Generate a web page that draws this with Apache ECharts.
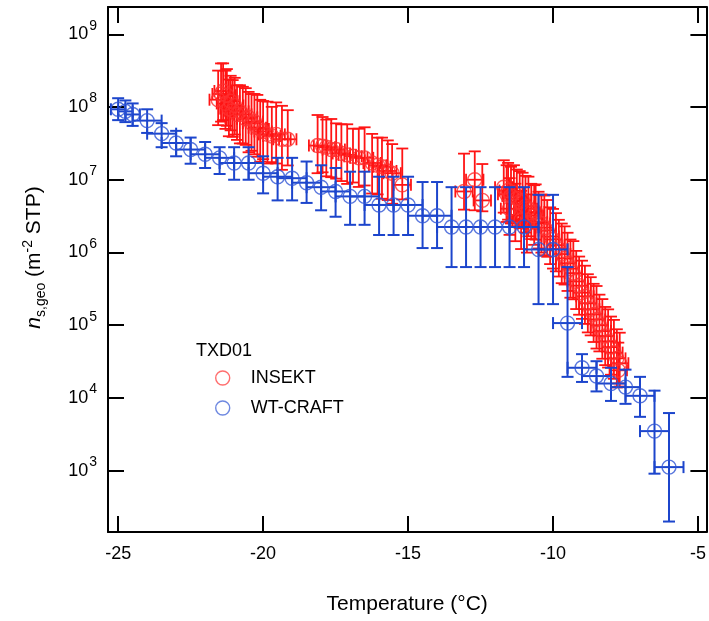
<!DOCTYPE html>
<html>
<head>
<meta charset="utf-8">
<script src="https://cdn.jsdelivr.net/npm/echarts@6/dist/echarts.min.js"></script>
<style>
html,body{margin:0;padding:0;background:#fff;}
#chart{width:709px;height:621px;}
</style>
</head>
<body>
<div id="chart"></div>
<script>
// ---------------- DATA ----------------
// WT-CRAFT (blue): temperature (°C), n_s,geo (m^-2 STP), lower bound, upper bound, temperature half-error
const blueT = [-25, -24.75, -24.5, -24, -23.5, -23, -22.5, -22, -21.5, -21,
  -20.5, -20, -19.5, -19, -18.5, -18, -17.5, -17, -16.5, -16,
  -15.5, -15, -14.5, -14, -13.5, -13, -12.5, -12, -11.5, -11,
  -10.5, -10, -9.5, -9, -8.5, -8, -7.5, -7, -6.5, -6];
const blueN = [9.3e7, 8.7e7, 7.9e7, 6.5e7, 4.3e7, 3.2e7, 2.6e7, 2.24e7, 2.0e7, 1.7e7,
  1.7e7, 1.23e7, 1.1e7, 1.05e7, 9.1e6, 7.9e6, 6.9e6, 5.9e6, 5.9e6, 4.5e6,
  4.5e6, 4.5e6, 3.2e6, 3.2e6, 2.24e6, 2.24e6, 2.24e6, 2.24e6, 2.24e6, 2.24e6,
  1.1e6, 1.1e6, 1.07e5, 2.6e4, 2.0e4, 1.58e4, 1.41e4, 1.07e4, 3.5e3, 1.12e3];
const blueLo = [6.6e7, 6.2e7, 5.5e7, 4.4e7, 2.8e7, 2.1e7, 1.66e7, 1.45e7, 1.2e7, 1.0e7,
  1.0e7, 6.5e6, 5.2e6, 5.2e6, 4.8e6, 3.8e6, 3.1e6, 2.4e6, 2.4e6, 1.74e6,
  1.74e6, 1.74e6, 1.15e6, 1.15e6, 6.3e5, 6.3e5, 6.3e5, 6.3e5, 6.3e5, 6.3e5,
  1.95e5, 1.95e5, 1.95e4, 1.66e4, 1.23e4, 9.1e3, 8.3e3, 5.5e3, 9.1e2, 2.0e2];
const blueHi = [1.32e8, 1.23e8, 1.12e8, 9.3e7, 6.0e7, 4.7e7, 3.8e7, 3.3e7, 2.8e7, 2.8e7,
  2.8e7, 2.1e7, 2.0e7, 2.0e7, 1.78e7, 1.58e7, 1.45e7, 1.29e7, 1.29e7, 1.1e7,
  1.1e7, 1.1e7, 9.3e6, 9.3e6, 7.9e6, 7.9e6, 7.9e6, 7.9e6, 7.9e6, 7.9e6,
  6.2e6, 6.2e6, 6.3e5, 4.0e4, 3.2e4, 2.6e4, 2.45e4, 1.95e4, 1.26e4, 6.2e3];
const blueTErr = [0.25, 0.25, 0.25, 0.5, 0.5, 0.5, 0.5, 0.5, 0.5, 0.5,
  0.5, 0.5, 0.5, 0.5, 0.5, 0.5, 0.5, 0.5, 0.5, 0.5,
  0.5, 0.5, 0.5, 0.5, 0.5, 0.5, 0.5, 0.5, 0.5, 0.5,
  0.5, 0.5, 0.5, 0.5, 0.5, 0.5, 0.5, 0.5, 0.5, 0.5];

// INSEKT (red): temperature (°C), n_s,geo, error up / down in decades
const redT = [
  -21.55, -21.45, -21.38, -21.30, -21.25, -21.18, -21.12, -21.05, -20.98, -20.90,
  -20.80, -20.70, -20.60, -20.50, -20.40, -20.30, -20.20, -20.10, -20.00, -19.85,
  -19.70, -19.55, -19.35, -19.15,
  -18.12, -17.95, -17.82, -17.65, -17.48, -17.30, -17.10, -16.90, -16.70, -16.50,
  -16.24, -16.05, -15.90, -15.70, -15.55, -15.20,
  -13.07, -12.70, -12.44,
  -11.70, -11.60, -11.55, -11.50, -11.45, -11.35, -11.30, -11.25, -11.15, -11.10,
  -11.05, -10.95, -10.90, -10.85, -10.75, -10.65, -10.60, -10.50, -10.40, -10.30,
  -10.20, -10.10, -10.00, -9.90, -9.80, -9.70, -9.60, -9.50, -9.40, -9.30,
  -9.20, -9.10, -9.00, -8.90, -8.80, -8.70, -8.60, -8.50, -8.40, -8.30,
  -8.20, -8.10, -8.00, -7.90, -7.80, -7.70, -7.75];
const redN = [
  1.26e8, 1.51e8, 1.66e8, 1.12e8, 1.45e8, 9.5e7, 1.2e8, 8.9e7, 1.05e8, 7.9e7,
  8.7e7, 7.9e7, 6.9e7, 7.2e7, 6.0e7, 6.3e7, 5.2e7, 5.0e7, 4.6e7, 4.2e7,
  4.0e7, 4.2e7, 3.6e7, 3.6e7,
  2.95e7, 2.9e7, 2.8e7, 2.6e7, 2.6e7, 2.3e7, 2.2e7, 2.1e7, 2.0e7, 2.0e7,
  1.7e7, 1.58e7, 1.51e7, 1.32e7, 1.23e7, 8.5e6,
  6.9e6, 1.0e7, 5.2e6,
  7.9e6, 6.3e6, 7.1e6, 4.0e6, 6.0e6, 6.6e6, 3.2e6, 5.5e6, 5.0e6, 2.8e6,
  5.2e6, 4.3e6, 2.5e6, 4.0e6, 3.5e6, 3.2e6, 3.6e6, 2.6e6, 2.5e6, 2.2e6,
  2.0e6, 1.66e6, 1.51e6, 1.26e6, 1.12e6, 9.5e5, 8.3e5, 7.1e5, 6.0e5, 5.2e5,
  4.0e5, 3.5e5, 2.8e5, 2.5e5, 2.0e5, 1.66e5, 1.41e5, 1.2e5, 1.0e5, 8.3e4,
  7.1e4, 6.0e4, 5.0e4, 4.2e4, 3.5e4, 3.0e4, 2.4e4];
const redUp = [
  .40, .42, .38, .45, .36, .40, .35, .42, .38, .40,
  .36, .38, .42, .35, .40, .38, .45, .40, .42, .45,
  .40, .44, .46, .40,
  .42, .40, .38, .42, .36, .40, .42, .38, .40, .42,
  .40, .38, .40, .42, .40, .50,
  .52, .39, .50,
  .37, .40, .38, .42, .40, .38, .44, .40, .42, .40,
  .38, .42, .40, .44, .40, .42, .38, .42, .40, .44,
  .42, .40, .42, .44, .40, .42, .44, .42, .40, .44,
  .42, .40, .44, .42, .40, .44, .42, .46, .42, .44,
  .40, .44, .42, .45, .40, .42, .38];
const redDn = [
  .35, .38, .40, .35, .42, .38, .40, .36, .40, .35,
  .44, .40, .36, .48, .38, .45, .40, .45, .38, .40,
  .36, .40, .42, .36,
  .38, .36, .40, .38, .40, .38, .40, .36, .40, .38,
  .42, .40, .44, .40, .42, .20,
  .25, .42, .15,
  .35, .38, .40, .36, .38, .40, .35, .38, .36, .40,
  .38, .36, .40, .38, .36, .40, .38, .36, .40, .38,
  .36, .38, .40, .36, .38, .40, .36, .38, .40, .36,
  .38, .40, .36, .38, .40, .36, .38, .40, .36, .38,
  .40, .36, .38, .36, .40, .32, .18];
const redTErr = 0.3;

const xTicksLabelled = [-25, -20, -15, -10, -5];
const legendTitle = 'TXD01';
const seriesNames = ['INSEKT', 'WT-CRAFT'];

// ---------------- BUILD ----------------
const RED = '#ff1414';
const BLUE = '#1c45cc';
const FONT = 'Liberation Sans, Arial, sans-serif';

const blueData = blueT.map((t, i) => [t, blueN[i], blueLo[i], blueHi[i], blueTErr[i]]);
const redData = redT.map((t, i) => [t, redN[i], redN[i] / Math.pow(10, redDn[i]), redN[i] * Math.pow(10, redUp[i]), redTErr]);

function errRender(color, lw, cap) {
  return function (params, api) {
    const x = api.value(0), y = api.value(1), lo = api.value(2), hi = api.value(3), xe = api.value(4);
    const c = api.coord([x, y]);
    const pLo = api.coord([x, lo]);
    const pHi = api.coord([x, hi]);
    const pL = api.coord([x - xe, y]);
    const pR = api.coord([x + xe, y]);
    const style = { stroke: color, lineWidth: lw, fill: null };
    return {
      type: 'group',
      children: [
        { type: 'line', shape: { x1: c[0], y1: pHi[1], x2: c[0], y2: pLo[1] }, style },
        { type: 'line', shape: { x1: c[0] - cap, y1: pHi[1], x2: c[0] + cap, y2: pHi[1] }, style },
        { type: 'line', shape: { x1: c[0] - cap, y1: pLo[1], x2: c[0] + cap, y2: pLo[1] }, style },
        { type: 'line', shape: { x1: pL[0], y1: c[1], x2: pR[0], y2: c[1] }, style },
        { type: 'line', shape: { x1: pL[0], y1: c[1] - cap, x2: pL[0], y2: c[1] + cap }, style },
        { type: 'line', shape: { x1: pR[0], y1: c[1] - cap, x2: pR[0], y2: c[1] + cap }, style }
      ]
    };
  };
}

const XMIN = -25.35, XMAX = -4.71, YMIN = 143.6, YMAX = 2.37e9;
const axisLineStyle = { color: '#000', width: 2 };

const chart = echarts.init(document.getElementById('chart'), null, { renderer: 'canvas' });
chart.setOption({
  animation: false,
  backgroundColor: '#fff',
  textStyle: { fontFamily: FONT },
  grid: { left: 108, right: 1, top: 7, bottom: 89, containLabel: false },
  title: {
    text: legendTitle, left: 196, top: 342, padding: 0,
    textStyle: { fontSize: 18, fontWeight: 'normal', color: '#000', fontFamily: FONT }
  },
  legend: {
    orient: 'vertical', left: 215, top: 369, padding: 0,
    itemWidth: 14, itemHeight: 14, itemGap: 12,
    textStyle: { fontSize: 18, color: '#000', fontFamily: FONT, padding: [0, 0, 0, 16] },
    data: [
      { name: seriesNames[0], icon: 'circle', itemStyle: { color: 'rgba(255,255,255,0)', borderColor: '#ff4a4a', borderWidth: 1.4 } },
      { name: seriesNames[1], icon: 'circle', itemStyle: { color: 'rgba(255,255,255,0)', borderColor: '#4a6ad8', borderWidth: 1.4 } }
    ]
  },
  xAxis: [
    {
      type: 'value', position: 'bottom', min: XMIN, max: XMAX, splitNumber: 4,
      axisLine: { lineStyle: axisLineStyle },
      axisTick: { inside: true, length: 16, lineStyle: axisLineStyle,
        customValues: xTicksLabelled },
      axisLabel: { fontSize: 18, color: '#000', margin: 13, fontFamily: FONT,
        customValues: xTicksLabelled, showMinLabel: true, showMaxLabel: true },
      splitLine: { show: false },
      name: 'Temperature (°C)', nameLocation: 'middle', nameGap: 62,
      nameTextStyle: { fontSize: 21, color: '#000', fontFamily: FONT }
    },
    {
      type: 'value', position: 'top', min: XMIN, max: XMAX, splitNumber: 4,
      axisLine: { lineStyle: axisLineStyle },
      axisTick: { inside: true, length: 16, lineStyle: axisLineStyle, customValues: xTicksLabelled },
      axisLabel: { show: false },
      splitLine: { show: false }
    }
  ],
  yAxis: [
    {
      type: 'log', logBase: 10, position: 'left', min: YMIN, max: YMAX, splitNumber: 7,
      axisLine: { lineStyle: axisLineStyle },
      axisTick: { inside: true, length: 16, lineStyle: axisLineStyle },
      minorTick: { show: false },
      axisLabel: {
        color: '#000', margin: 11, fontFamily: FONT, showMinLabel: false, showMaxLabel: false,
        formatter: v => '{b|10}{s|' + Math.round(Math.log10(v)) + '}',
        rich: {
          b: { fontSize: 18, fontFamily: FONT, color: '#000', verticalAlign: 'middle' },
          s: { fontSize: 14, fontFamily: FONT, color: '#000', verticalAlign: 'middle', padding: [0, 0, 17, 1] }
        }
      },
      splitLine: { show: false },
      name: '{i|n}{sub|s,geo}{t| (m}{sup|-2}{t| STP)}',
      nameLocation: 'middle', nameGap: 60,
      nameTextStyle: {
        color: '#000', padding: [0, 0, 0, 24],
        rich: {
          i: { fontSize: 21, fontStyle: 'italic', fontFamily: FONT, color: '#000', verticalAlign: 'middle' },
          sub: { fontSize: 14, fontFamily: FONT, color: '#000', verticalAlign: 'middle', padding: [13, 0, 0, 0] },
          t: { fontSize: 21, fontFamily: FONT, color: '#000', verticalAlign: 'middle' },
          sup: { fontSize: 14, fontFamily: FONT, color: '#000', verticalAlign: 'middle', padding: [0, 0, 13, 0] }
        }
      }
    },
    {
      type: 'log', logBase: 10, position: 'right', min: YMIN, max: YMAX, splitNumber: 7,
      axisLine: { lineStyle: axisLineStyle },
      axisTick: { inside: true, length: 16, lineStyle: axisLineStyle },
      minorTick: { show: false },
      axisLabel: { show: false },
      splitLine: { show: false }
    }
  ],
  series: [
    {
      type: 'custom', name: 'INSEKT-err', xAxisIndex: 0, yAxisIndex: 0, clip: true,
      renderItem: errRender(RED, 1.8, 6), data: redData, encode: { x: 0, y: 1 }, z: 2, silent: true
    },
    {
      type: 'scatter', name: seriesNames[0], xAxisIndex: 0, yAxisIndex: 0, clip: true,
      symbol: 'circle', symbolSize: 14,
      itemStyle: { color: 'rgba(255,255,255,0)', borderColor: '#ff3030', borderWidth: 1.4 },
      data: redData.map(d => [d[0], d[1]]), z: 3, silent: true
    },
    {
      type: 'custom', name: 'WT-CRAFT-err', xAxisIndex: 0, yAxisIndex: 0, clip: true,
      renderItem: errRender(BLUE, 2, 6), data: blueData, encode: { x: 0, y: 1 }, z: 4, silent: true
    },
    {
      type: 'scatter', name: seriesNames[1], xAxisIndex: 0, yAxisIndex: 0, clip: true,
      symbol: 'circle', symbolSize: 14,
      itemStyle: { color: 'rgba(255,255,255,0)', borderColor: '#2f55d4', borderWidth: 1.4 },
      data: blueData.map(d => [d[0], d[1]]), z: 5, silent: true
    }
  ]
});
</script>
</body>
</html>
